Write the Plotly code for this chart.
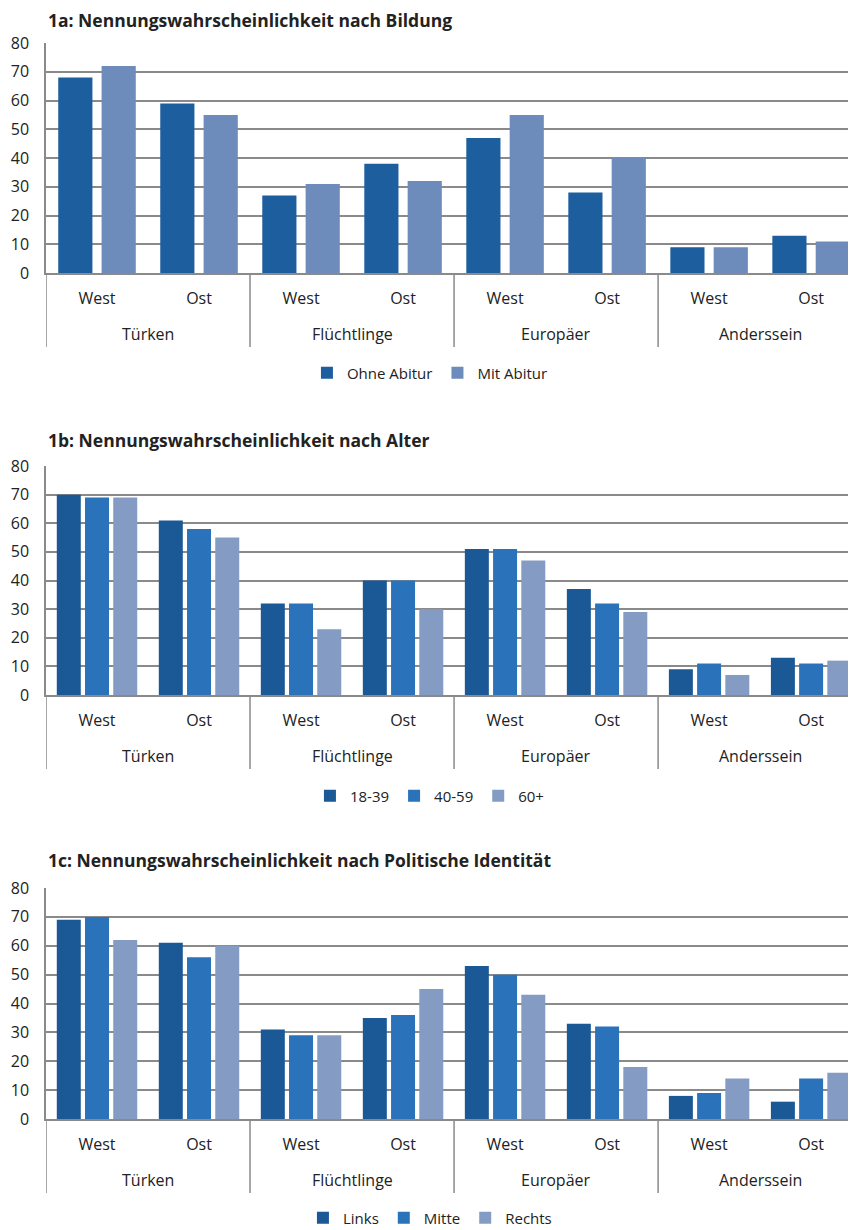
import plotly.graph_objects as go

groups = ["Türken", "Flüchtlinge", "Europäer", "Anderssein"]
regions = ["West", "Ost"]
categories = [f"{g} {r}" for g in groups for r in regions]
inner_labels = [r for _ in groups for r in regions]

# 1a: Bildung
bildung_names = ["Ohne Abitur", "Mit Abitur"]
ohne_abitur = [68, 59, 27, 38, 47, 28, 9, 13]
mit_abitur = [72, 55, 31, 32, 55, 40, 9, 11]

# 1b: Alter
alter_names = ["18-39", "40-59", "60+"]
alter_18_39 = [70, 61, 32, 40, 51, 37, 9, 13]
alter_40_59 = [69, 58, 32, 40, 51, 32, 11, 11]
alter_60 = [69, 55, 23, 30, 47, 29, 7, 12]

# 1c: Politische Identität
pol_names = ["Links", "Mitte", "Rechts"]
links = [69, 61, 31, 35, 53, 33, 8, 6]
mitte = [70, 56, 29, 36, 50, 32, 9, 14]
rechts = [62, 60, 29, 45, 43, 18, 14, 16]

titles = [
    "1a: Nennungswahrscheinlichkeit nach Bildung",
    "1b: Nennungswahrscheinlichkeit nach Alter",
    "1c: Nennungswahrscheinlichkeit nach Politische Identität",
]
yticks = list(range(0, 81, 10))

# the page body has an 8px default margin -> figure is 8px smaller, positions shifted
OFF = 8
W, H = 856 - OFF, 1230 - OFF
FONT = "Open Sans"
TXT = "#222222"
GRID = "#8a8a8a"

def py(px):
    return 1 - (px - OFF) / H

areas = [(43, 273), (466, 695), (888, 1119)]
legend_y = [373, 796, 1218]
title_y = [20, 440, 860]

panels = [
    (list(zip(bildung_names, [ohne_abitur, mit_abitur])), ["#1d5e9f", "#6d8bbb"]),
    (list(zip(alter_names, [alter_18_39, alter_40_59, alter_60])), ["#1b5896", "#2a72ba", "#849cc3"]),
    (list(zip(pol_names, [links, mitte, rechts])), ["#1b5896", "#2a72ba", "#849cc3"]),
]

fig = go.Figure()

for i, (series, colors) in enumerate(panels):
    xa = "x" if i == 0 else f"x{i+1}"
    ya = "y" if i == 0 else f"y{i+1}"
    lg = "legend" if i == 0 else f"legend{i+1}"
    for (name, vals), col in zip(series, colors):
        fig.add_trace(go.Bar(
            x=categories, y=vals, name=name,
            marker=dict(color=col, line=dict(width=0)),
            xaxis=xa, yaxis=ya, legend=lg, hoverinfo="skip",
            offsetgroup=name,
        ))

layout = dict(
    width=W, height=H,
    margin=dict(l=46 - OFF, r=0, t=0, b=0, autoexpand=False),
    paper_bgcolor="white", plot_bgcolor="white",
    font=dict(family=FONT, color=TXT, size=16),
    barmode="group",
    showlegend=True,
    bargap=0.17, bargroupgap=0.15,
)

for i, (top, bot) in enumerate(areas):
    sfx = "" if i == 0 else str(i + 1)
    layout[f"xaxis{sfx}"] = dict(
        type="category",
        domain=[0, 1],
        anchor=f"y{sfx}",
        range=[-0.5, 7.44],
        tickvals=categories, ticktext=inner_labels,
        showline=True, linecolor=GRID, linewidth=1.5,
        showgrid=False,
        ticks="outside", ticklen=10, tickcolor="rgba(0,0,0,0)",
        tickfont=dict(size=16, color=TXT, family=FONT),
        automargin=False,
    )
    layout[f"yaxis{sfx}"] = dict(
        domain=[py(bot), py(top)],
        anchor=f"x{sfx}",
        range=[0, 80], tickvals=yticks,
        showgrid=True, gridcolor=GRID, gridwidth=1.5,
        showline=True, linecolor=GRID, linewidth=1.5,
        zeroline=False,
        ticks="outside", ticklen=12, tickcolor="rgba(0,0,0,0)",
        tickfont=dict(size=16, color=TXT, family=FONT),
        automargin=False,
    )
    lname = "legend" if i == 0 else f"legend{i+1}"
    layout[lname] = dict(
        orientation="h", x=0.474, xanchor="center",
        y=py(legend_y[i]), yanchor="middle",
        font=dict(size=15, color=TXT, family=FONT),
        itemwidth=30, tracegroupgap=0, bgcolor="rgba(0,0,0,0)",
    )

fig.update_layout(**layout)

shapes = []
annotations = []
for i in range(3):
    sfx = "" if i == 0 else str(i + 1)
    xr = f"x{sfx}"
    yr = f"y{sfx} domain"
    for gi in range(len(groups)):
        shapes.append(dict(
            type="line", xref=xr, yref=yr,
            x0=gi * len(regions) - 0.5, x1=gi * len(regions) - 0.5,
            ysizemode="pixel", yanchor=0, y0=0, y1=-74,
            line=dict(color=GRID, width=1.5),
        ))
    for gi, g in enumerate(groups):
        annotations.append(dict(
            text=g, xref=xr, yref=yr,
            x=gi * len(regions) + (len(regions) - 1) / 2, y=0,
            yanchor="middle", xanchor="center", yshift=-61,
            showarrow=False, font=dict(size=16, color=TXT, family=FONT),
        ))
    annotations.append(dict(
        text=f"<b>{titles[i]}</b>", xref="paper", yref="paper",
        x=0, y=py(title_y[i]), xanchor="left", yanchor="middle",
        showarrow=False, font=dict(size=17.5, color=TXT, family=FONT),
    ))

fig.update_layout(shapes=shapes, annotations=annotations)

# 1a has two series per category -> wider bars
for tr in fig.data[:2]:
    tr.width = 0.335
fig.data[0].offset = -0.38
fig.data[1].offset = 0.045

fig.write_html("out.html")
